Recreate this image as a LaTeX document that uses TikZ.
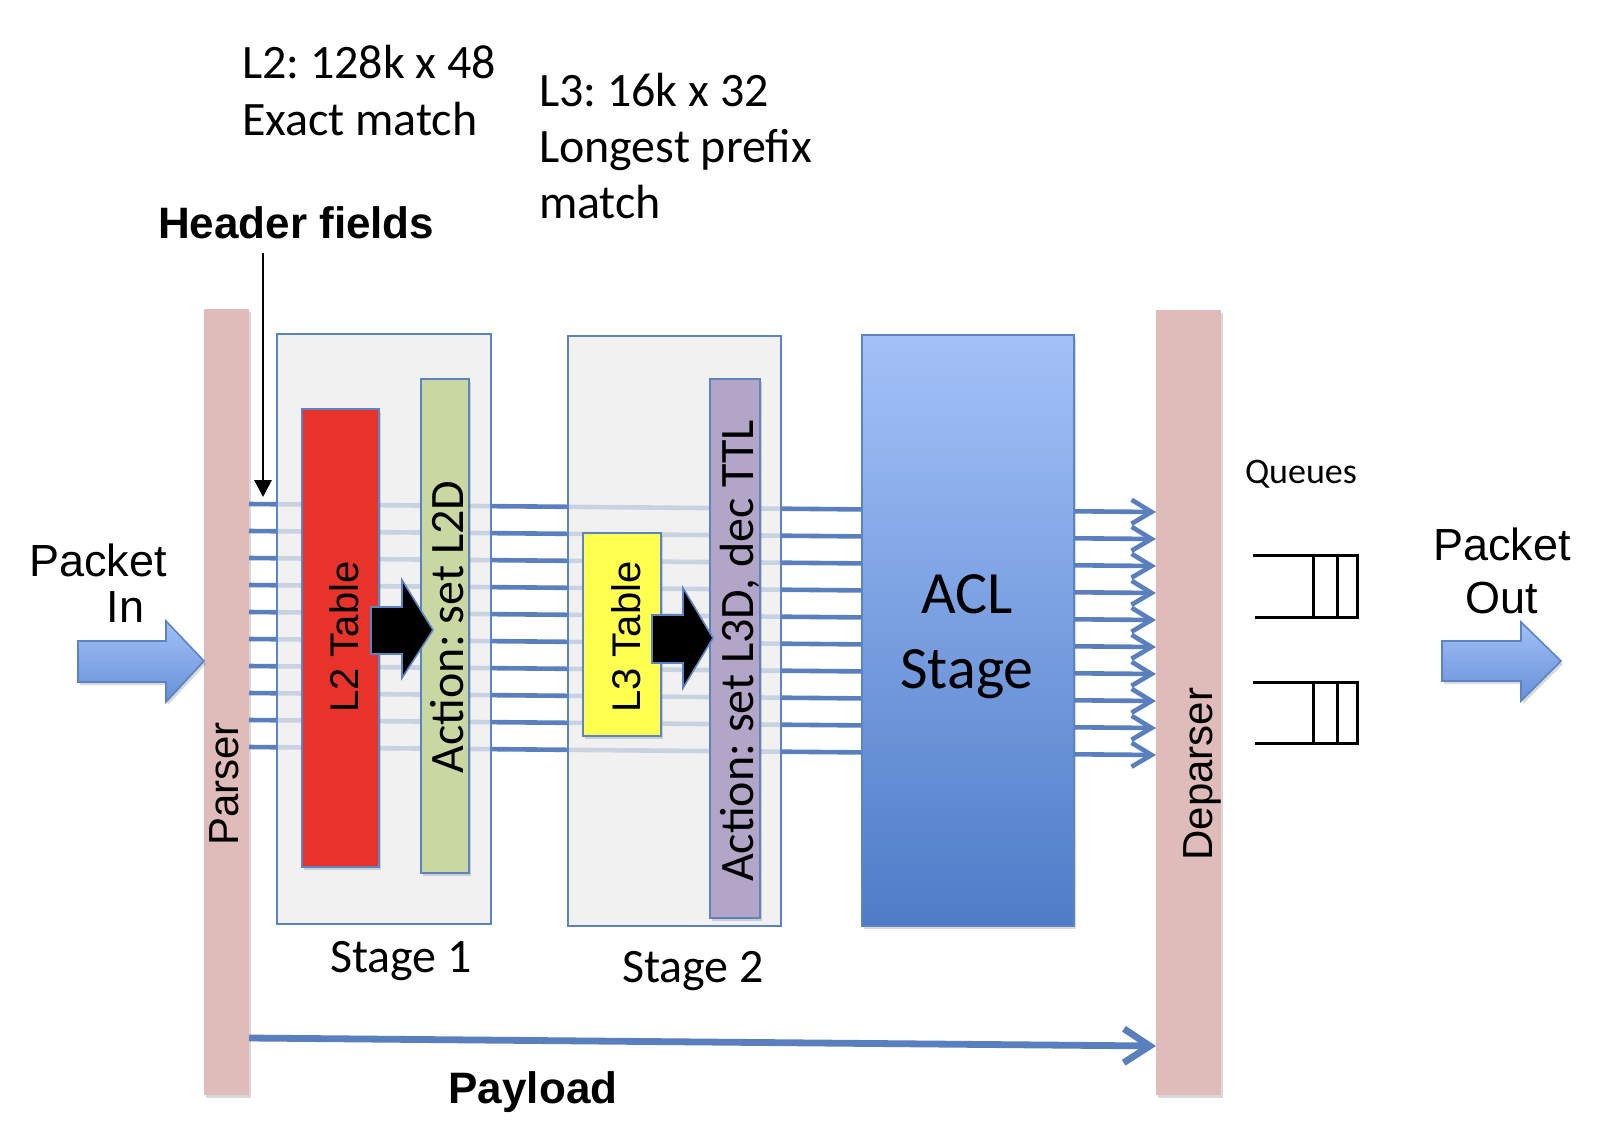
\documentclass[tikz,border=0pt]{standalone}
\usepackage{fontspec}
\setmainfont{Carlito}
\newfontfamily\arialf{Liberation Sans}
\usetikzlibrary{arrows.meta,fit,shadows}
\definecolor{parserpink}{HTML}{DFBBB9}
\definecolor{stagegray}{HTML}{EDEDED}
\definecolor{edgeblue}{HTML}{5B84C4}
\definecolor{busblue}{HTML}{5A7FBF}
\definecolor{tabred}{HTML}{E8332A}
\definecolor{actgreen}{HTML}{C9D8A3}
\definecolor{tabyellow}{HTML}{FFFF50}
\definecolor{actpurple}{HTML}{B2A5C8}
\definecolor{acltop}{HTML}{A3C1F8}
\definecolor{aclbot}{HTML}{4E7CC8}
\definecolor{arrtop}{HTML}{A2C0F6}
\definecolor{arrbot}{HTML}{6690D8}
\frenchspacing
\begin{document}
\begin{tikzpicture}[x=0.5pt,y=-0.5pt,
  every node/.style={inner sep=0pt, outer sep=0pt},
  softshadow/.style={drop shadow={shadow xshift=1pt, shadow yshift=-1.5pt, opacity=0.25, fill=black!60}},
  bar/.style={fill=parserpink, softshadow},
  stagebox/.style={fill=stagegray, fill opacity=0.76, draw=edgeblue, line width=1pt},
  inbox/.style={draw=edgeblue, line width=0.9pt, softshadow},
  aclbox/.style={top color=acltop, bottom color=aclbot, draw=edgeblue, line width=0.6pt, softshadow},
  bus/.style={draw=busblue, line width=2.3pt, -{Straight Barb[length=10pt, width=12pt]}},
  paybus/.style={draw=busblue, line width=3.4pt, -{Straight Barb[length=13pt, width=17pt]}},
  hdrarrow/.style={draw=black, line width=1.4pt, -{Triangle[length=8.5pt, width=8.5pt]}},
  blockarrow/.style={fill=black, draw=edgeblue, line width=0.8pt, line join=miter},
  fatarrow/.style={top color=arrtop, bottom color=arrbot, draw=edgeblue, line width=0.8pt, softshadow},
  qline/.style={draw=black, line width=1.5pt, line join=miter},
  caltext/.style={font=\fontsize{24}{28.5}\selectfont},
  rottext/.style={rotate=90, anchor=base},
  arialtext/.style={font=\arialf\fontsize{22.5}{23}\selectfont},
  boldtext/.style={font=\arialf\bfseries\fontsize{22}{26}\selectfont}
]
\useasboundingbox (0,0) rectangle (1614,1142);

% parser / deparser bars
\node[bar, fit={(204,309) (249,1095)}] (parser) {};
\node[bar, fit={(1156,310) (1221,1095)}] (deparser) {};

% header field bus
\foreach \k in {0,...,9}{
  \coordinate (bl\k) at (0,{504+27*\k});
  \coordinate (br\k) at (0,{512+27*\k});
  \draw[bus] (parser.east |- bl\k) -- (deparser.west |- br\k);
}

% payload
\coordinate (pl) at (0,1038);
\coordinate (pr) at (0,1046);
\draw[paybus] (parser.east |- pl) -- (deparser.west |- pr);

% stages
\node[stagebox, fit={(277,334) (491,924)}] (stage1) {};
\node[stagebox, fit={(568,336) (781,926)}] (stage2) {};
\node[inbox, fill=tabred, fit={(302,409) (379,867)}] (l2tab) {};
\node[inbox, fill=actgreen, fit={(421,379) (469,873)}] (l2act) {};
\node[inbox, fill=tabyellow, fit={(583,533) (661,736)}] (l3tab) {};
\node[inbox, fill=actpurple, fit={(710,379) (760,918)}] (l3act) {};
\node[aclbox, fit={(862,335) (1074,926)}] (acl) {};

% block arrows table -> action
\draw[blockarrow] (371,607) -- (402,607) -- (402,580) -- (433,630) -- (402,678) -- (402,654) -- (371,654) -- cycle;
\draw[blockarrow] (652,615) -- (683,615) -- (683,588) -- (713,638) -- (683,688) -- (683,663) -- (652,663) -- cycle;

% packet in / out arrows
\draw[fatarrow] (78,641) -- (166,641) -- (166,621) -- (204,661) -- (166,702) -- (166,682) -- (78,682) -- cycle;
\draw[fatarrow] (1442,641) -- (1521,641) -- (1521,622) -- (1561,661) -- (1521,701) -- (1521,681) -- (1442,681) -- cycle;

% queues
\draw[qline] (1253,555) -- (1357,555) -- (1357,617) -- (1255,617);
\draw[qline] (1313,555) -- (1313,617);
\draw[qline] (1337,555) -- (1337,617);
\draw[qline] (1253,682) -- (1357,682) -- (1357,743) -- (1255,743);
\draw[qline] (1313,682) -- (1313,743);
\draw[qline] (1337,682) -- (1337,743);

% texts
\node[caltext, anchor=base west] (l2info) at (242,78) {\vtop{\hbox{L2: 128k x 48}\hbox{Exact match}}};
\node[font=\fontsize{24}{28}\selectfont, anchor=base west] (l3info) at (539,106) {\vtop{\hbox{L3: 16k x 32}\hbox{Longest prefix}\hbox{match}}};
\node[boldtext, anchor=base west] (hf) at (158,238) {Header fields};
\coordinate (hfb) at (263,497);
\draw[hdrarrow, shorten <=7.5pt] (hf.south -| hfb) -- (hfb);

\node[arialtext, anchor=base west] (pin) at (29,576) {\vtop{\hbox{Packet}\hbox{\hspace*{38.75pt}In}}};
\node[font=\arialf\fontsize{22.5}{26.5}\selectfont, anchor=base] (pout) at (1502,560) {\vtop{\hbox{\makebox[0pt]{Packet}}\hbox{\makebox[0pt]{Out}}}};
\node[font=\fontsize{30}{37.5}\selectfont, anchor=base] (acltxt) at (967,613) {\vtop{\hbox{\makebox[0pt]{ACL}}\hbox{\makebox[0pt]{Stage}}}};
\node[caltext, anchor=base] (s1txt) at (401,972) {Stage 1};
\node[caltext, anchor=base] (s2txt) at (693,982) {Stage 2};
\node[boldtext, anchor=base] (paytxt) at (533,1103) {Payload};
\node[font=\fontsize{18}{22}\selectfont, anchor=base west] (qtxt) at (1245,483) {Queues};

\node[rottext, font=\arialf\fontsize{21}{25}\selectfont] (parsertxt) at (238,784) {Parser};
\node[rottext, font=\arialf\fontsize{21}{25}\selectfont] (deparsertxt) at (1212,774) {Deparser};
\node[rottext, font=\arialf\fontsize{20}{24}\selectfont] (l2tabtxt) at (358,637) {L2 Table};
\node[rottext, font=\arialf\fontsize{20}{24}\selectfont] (l3tabtxt) at (640,637) {L3 Table};
\node[rottext, caltext] (l2acttxt) at (463,627) {Action: set L2D};
\node[rottext, caltext] (l3acttxt) at (753,651) {Action: set L3D, dec TTL};
\end{tikzpicture}
\end{document}
